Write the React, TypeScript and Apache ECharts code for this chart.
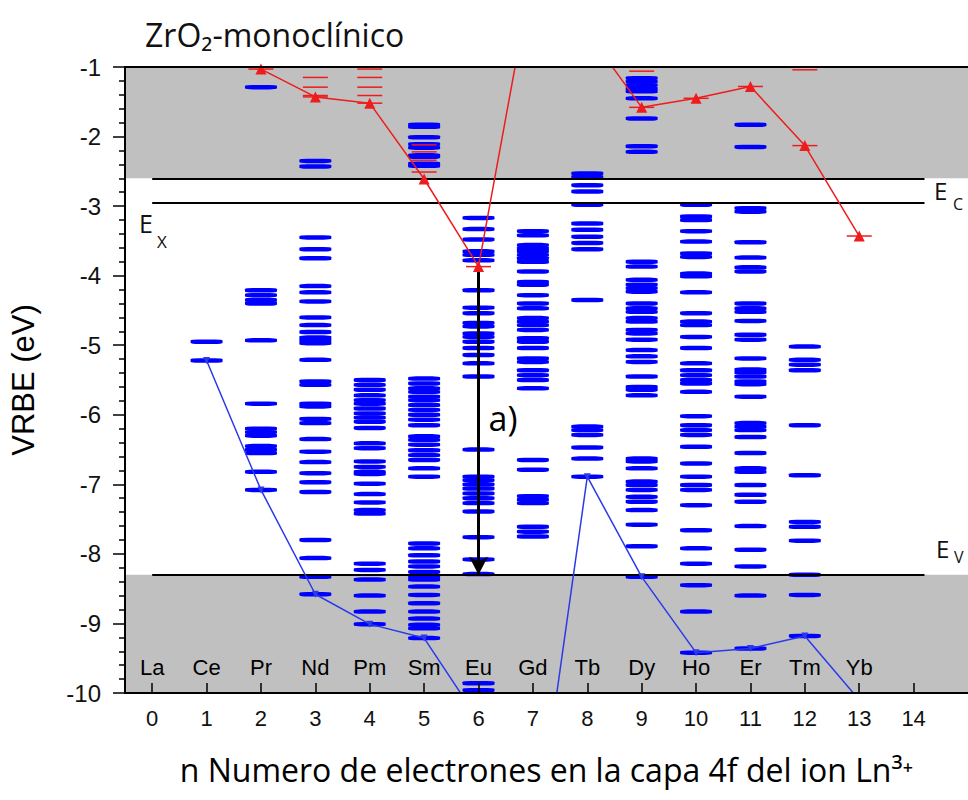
import React, { useEffect, useRef } from 'react';
import * as echarts from 'echarts';

// ---------- data ----------
const elements = ['La', 'Ce', 'Pr', 'Nd', 'Pm', 'Sm', 'Eu', 'Gd', 'Tb', 'Dy', 'Ho', 'Er', 'Tm', 'Yb'];
const tickValues = [0, 1, 2, 3, 4, 5, 6, 7, 8, 9, 10, 11, 12, 13, 14];
const elementLabelY = -9.64;

// 4f levels (blue dashes), per n
const levCe = [-4.95, -5.22];
const levPr = [-1.29, -4.21, -4.28, -4.35, -4.4, -4.93, -5.84, -6.2, -6.25, -6.3, -6.45, -6.5, -6.55, -6.82, -7.08];
const levNd = [-2.35, -2.43, -3.45, -3.62, -3.75, -4.15, -4.24, -4.37, -4.6, -4.71, -4.81, -4.89, -4.93, -4.97, -5.21, -5.52, -5.57, -5.84, -5.88, -6.06, -6.12, -6.35, -6.53, -6.68, -6.84, -6.97, -7.11, -7.8, -8.06, -8.33, -8.58];
const levPm = [-5.5, -5.57, -5.64, -5.72, -5.79, -5.84, -5.91, -5.98, -6.04, -6.1, -6.19, -6.41, -6.48, -6.67, -6.75, -6.82, -6.85, -6.99, -7.14, -7.26, -7.37, -7.42, -8.14, -8.23, -8.37, -8.6, -8.83, -9.01];
const levSm = [-1.83, -1.86, -2.01, -2.11, -2.16, -2.27, -2.29, -2.39, -2.42, -5.48, -5.55, -5.62, -5.67, -5.74, -5.79, -5.86, -5.93, -6.0, -6.07, -6.15, -6.31, -6.36, -6.43, -6.51, -6.58, -6.65, -6.77, -6.89, -7.85, -7.92, -8.02, -8.11, -8.18, -8.26, -8.33, -8.37, -8.47, -8.59, -8.71, -8.83, -8.93, -9.02, -9.07, -9.21];
const levEu = [-3.17, -3.33, -3.48, -3.65, -3.7, -3.78, -4.21, -4.46, -4.54, -4.68, -4.73, -4.83, -4.88, -4.95, -5.04, -5.14, -5.26, -5.45, -6.5, -6.89, -6.94, -7.0, -7.06, -7.13, -7.2, -7.27, -7.39, -7.76, -8.08, -8.29, -9.86, -9.96];
const levGd = [-3.36, -3.42, -3.56, -3.61, -3.65, -3.7, -3.75, -3.8, -3.94, -4.09, -4.13, -4.28, -4.4, -4.47, -4.61, -4.66, -4.71, -4.78, -4.9, -4.95, -5.04, -5.19, -5.24, -5.36, -5.43, -5.5, -5.62, -6.65, -6.79, -7.17, -7.22, -7.27, -7.61, -7.68, -7.75];
const levTb = [-2.53, -2.58, -2.7, -2.79, -2.98, -3.25, -3.34, -3.44, -3.53, -3.62, -4.35, -6.17, -6.22, -6.29, -6.47, -6.63, -6.89];
const levDy = [-1.16, -1.21, -1.26, -1.31, -1.35, -1.45, -1.74, -2.14, -2.22, -3.8, -3.87, -4.06, -4.13, -4.18, -4.23, -4.4, -4.47, -4.52, -4.61, -4.66, -4.78, -4.83, -4.92, -5.07, -5.16, -5.24, -5.45, -5.6, -5.64, -5.72, -6.63, -6.67, -6.77, -6.96, -7.01, -7.08, -7.18, -7.25, -7.37, -7.58, -7.89, -8.33];
const levHo = [-2.98, -3.15, -3.2, -3.36, -3.51, -3.68, -3.73, -3.97, -4.01, -4.24, -4.54, -4.66, -4.71, -4.88, -5.04, -5.26, -5.36, -5.43, -5.5, -5.55, -5.67, -6.02, -6.15, -6.22, -6.29, -6.46, -6.7, -6.89, -7.01, -7.08, -7.3, -7.66, -7.92, -8.14, -8.45, -8.83, -9.42];
const levEr = [-1.83, -2.15, -3.03, -3.08, -3.52, -3.74, -3.88, -3.94, -4.4, -4.47, -4.52, -4.65, -4.85, -4.92, -5.19, -5.35, -5.39, -5.45, -5.52, -5.56, -5.74, -6.12, -6.17, -6.22, -6.32, -6.55, -6.77, -6.82, -7.01, -7.15, -7.25, -7.6, -7.94, -8.18, -8.6, -9.36];
const levTm = [-5.02, -5.21, -5.28, -5.36, -6.15, -6.87, -7.54, -7.61, -7.81, -8.3, -8.59, -9.18];

// Ln2+ levels (red dashes), per n
const redPr = [-1.03];
const redNd = [-1.15, -1.29, -1.41, -1.43];
const redPm = [-1.03, -1.15, -1.29, -1.41, -1.52];
const redSm = [-2.12, -2.22, -2.34, -2.51, -2.61];
const redEu = [-3.87];
const redDy = [-1.06, -1.58];
const redHo = [-1.45];
const redEr = [-1.28];
const redTm = [-1.04, -2.13];
const redYb = [-3.43];

// curves
const redCurveN = [2, 3, 4, 5, 6, 7, 8, 9, 10, 11, 12, 13];
const redCurveV = [-1.03, -1.43, -1.52, -2.61, -3.87, 0.4, -0.5, -1.58, -1.45, -1.28, -2.13, -3.43];
const blueCurveN = [1, 2, 3, 4, 5, 6, 7, 8, 9, 10, 11, 12, 13];
const blueCurveV = [-5.22, -7.08, -8.58, -9.01, -9.21, -10.39, -12.44, -6.89, -8.33, -9.42, -9.36, -9.18, -10.1];

// bands and reference energies
const bandBC = [-1, -2.6];
const bandBV = [-8.3, -10];
const energyEc = -2.6;
const energyEx = -2.95;
const energyEv = -8.3;
const refLineX = [0, 14.2];
const arrowN = 6;
const arrowFrom = -3.87;
const arrowTo = -8.3;

const BLUE = '#0000ff';
const RED = '#ee1c1c';

export default function App() {
  const ref = useRef<HTMLDivElement>(null);

  useEffect(() => {
    if (!ref.current) return;
    const chart = echarts.init(ref.current, undefined, { renderer: 'svg' });

    const blueSets: [number, number[]][] = [
      [1, levCe], [2, levPr], [3, levNd], [4, levPm], [5, levSm], [6, levEu],
      [7, levGd], [8, levTb], [9, levDy], [10, levHo], [11, levEr], [12, levTm],
    ];
    const redSets: [number, number[]][] = [
      [2, redPr], [3, redNd], [4, redPm], [5, redSm], [6, redEu],
      [9, redDy], [10, redHo], [11, redEr], [12, redTm], [13, redYb],
    ];
    const blueLevelData: number[][] = [];
    blueSets.forEach(([n, arr]) => arr.forEach((v) => blueLevelData.push([n, v])));
    const redLevelData: number[][] = [];
    redSets.forEach(([n, arr]) => arr.forEach((v) => redLevelData.push([n, v])));

    const hLine = (y: number) => [
      { coord: [refLineX[0], y] },
      { coord: [refLineX[1], y] },
    ];

    const sansText = "'Open Sans', 'Noto Sans', sans-serif";
    const arialText = "'Liberation Sans', Arial, sans-serif";

    chart.setOption({
      animation: false,
      backgroundColor: '#ffffff',
      grid: { left: 125, right: 0, top: 67, bottom: 107, containLabel: false, outerBoundsMode: 'none' },
      xAxis: [
        {
          type: 'value',
          min: -0.5,
          max: 15,
          position: 'bottom',
          z: 20,
          axisLine: { show: true, onZero: false, lineStyle: { color: '#000', width: 2 } },
          axisTick: { show: true, inside: true, length: 10, customValues: tickValues, lineStyle: { color: '#000', width: 1.5 } },
          axisLabel: { show: true, customValues: tickValues, fontSize: 22, color: '#111', margin: 14, fontFamily: "'Liberation Sans Narrow', 'Liberation Sans', Arial, sans-serif" },
          splitLine: { show: false },
          name: 'n Numero de electrones en la capa 4f del ion Ln³⁺',
          nameLocation: 'middle',
          nameGap: 60,
          nameTextStyle: { fontSize: 32, color: '#000', fontFamily: sansText },
        },
        {
          type: 'value',
          min: -0.5,
          max: 15,
          position: 'top',
          z: 20,
          axisLine: { show: true, onZero: false, lineStyle: { color: '#000', width: 2 } },
          axisTick: { show: false },
          axisLabel: { show: false },
          splitLine: { show: false },
        },
      ],
      yAxis: {
        type: 'value',
        min: -10,
        max: -1,
        interval: 1,
        z: 20,
        axisLine: { show: true, onZero: false, lineStyle: { color: '#000', width: 2 } },
        axisTick: { show: true, inside: false, length: 12, lineStyle: { color: '#000', width: 1.5 } },
        minorTick: { show: true, splitNumber: 5, length: 6, lineStyle: { color: '#000', width: 1.5 } },
        axisLabel: { fontSize: 24, color: '#111', margin: 24, fontFamily: arialText },
        splitLine: { show: false },
        name: 'VRBE (eV)',
        nameLocation: 'middle',
        nameGap: 86,
        nameTextStyle: { fontSize: 31, color: '#000', fontFamily: arialText },
      },
      series: [
        {
          name: 'bg',
          type: 'line',
          data: [],
          z: 1,
          silent: true,
          markArea: {
            silent: true,
            itemStyle: { color: '#c0c0c0' },
            data: [
              [{ yAxis: bandBC[0] }, { yAxis: bandBC[1] }],
              [{ yAxis: bandBV[0] }, { yAxis: bandBV[1] }],
            ],
          },
        },
        {
          name: 'refLines',
          type: 'line',
          data: [],
          z: 2,
          silent: true,
          markLine: {
            silent: true,
            symbol: ['none', 'none'],
            label: { show: false },
            lineStyle: { color: '#000', width: 2, type: 'solid' },
            data: [hLine(energyEc), hLine(energyEx), hLine(energyEv)],
          },
        },
        {
          name: 'levels4f',
          type: 'scatter',
          z: 3,
          silent: true,
          symbol: 'roundRect',
          symbolSize: [32, 4.5],
          itemStyle: { color: BLUE, opacity: 1 },
          data: blueLevelData,
        },
        {
          name: 'levelsLn2',
          type: 'scatter',
          z: 4,
          silent: true,
          symbol: 'rect',
          symbolSize: [25, 1.5],
          itemStyle: { color: RED, opacity: 1 },
          data: redLevelData,
        },
        {
          name: 'curve2',
          type: 'line',
          z: 5,
          silent: true,
          symbol: 'triangle',
          symbolRotate: 180,
          symbolSize: 7,
          showSymbol: true,
          lineStyle: { color: '#2a3ae8', width: 1.5 },
          itemStyle: { color: '#2a3ae8' },
          data: blueCurveN.map((n, i) => [n, blueCurveV[i]]),
        },
        {
          name: 'curve1',
          type: 'line',
          z: 6,
          silent: true,
          symbol: 'triangle',
          symbolSize: 11,
          showSymbol: true,
          lineStyle: { color: RED, width: 1.5 },
          itemStyle: { color: RED },
          data: redCurveN.map((n, i) => [n, redCurveV[i]]),
          markLine: {
            silent: true,
            symbol: ['none', 'arrow'],
            symbolSize: [14, 18],
            label: { show: false },
            lineStyle: { color: '#000', width: 3, type: 'solid' },
            data: [[{ coord: [arrowN, arrowFrom] }, { coord: [arrowN, arrowTo] }]],
          },
        },
        {
          name: 'elements',
          type: 'scatter',
          z: 7,
          silent: true,
          symbolSize: 0,
          itemStyle: { color: '#000', opacity: 1 },
          label: {
            show: true,
            position: 'inside',
            formatter: (p: any) => p.data[2],
            fontSize: 22,
            color: '#000',
            opacity: 1,
            textBorderWidth: 0,
            fontFamily: "'Liberation Sans Narrow', 'Liberation Sans', Arial, sans-serif",
          },
          data: elements.map((e, i) => [i, elementLabelY, e]),
        },
      ],
      graphic: [
        { type: 'text', x: 145, y: 34, style: { text: 'ZrO₂-monoclínico', fontSize: 32, fontFamily: sansText, fill: '#111', verticalAlign: 'middle' } },
        { type: 'text', x: 921, y: 115, style: { text: 'BC', fontSize: 32, fontFamily: sansText, fill: '#111', align: 'center', verticalAlign: 'middle' } },
        { type: 'text', x: 934, y: 190, style: { text: 'E', fontSize: 24, fontFamily: sansText, fill: '#111', verticalAlign: 'middle' } },
        { type: 'text', x: 953, y: 204, style: { text: 'C', fontSize: 16, fontFamily: sansText, fill: '#111', verticalAlign: 'middle' } },
        { type: 'text', x: 139, y: 223, style: { text: 'E', fontSize: 25, fontFamily: sansText, fill: '#111', verticalAlign: 'middle' } },
        { type: 'text', x: 157, y: 241, style: { text: 'X', fontSize: 17, fontFamily: sansText, fill: '#111', verticalAlign: 'middle' } },
        { type: 'text', x: 936, y: 548, style: { text: 'E', fontSize: 24, fontFamily: sansText, fill: '#111', verticalAlign: 'middle' } },
        { type: 'text', x: 954, y: 557, style: { text: 'V', fontSize: 16, fontFamily: sansText, fill: '#111', verticalAlign: 'middle' } },
        { type: 'rect', shape: { x: 851, y: 627, width: 31, height: 5 }, style: { fill: BLUE } },
        { type: 'text', x: 926, y: 632, style: { text: 'BV', fontSize: 32, fontFamily: sansText, fill: '#111', align: 'center', verticalAlign: 'middle' } },
        { type: 'text', x: 812, y: 103, style: { text: '(1)', fontSize: 30, fontFamily: sansText, fill: RED, align: 'center', verticalAlign: 'middle' } },
        { type: 'text', x: 638, y: 615, style: { text: '(2)', fontSize: 27, fontFamily: sansText, fill: '#2a3ae8', align: 'center', verticalAlign: 'middle' } },
        { type: 'text', x: 503, y: 418, style: { text: 'a)', fontSize: 34, fontFamily: sansText, fill: '#000', align: 'center', verticalAlign: 'middle' } },
      ],
    });

    return () => chart.dispose();
  }, []);

  return <div ref={ref} style={{ width: 968, height: 800, position: 'absolute', left: 0, top: 0 }} />;
}
